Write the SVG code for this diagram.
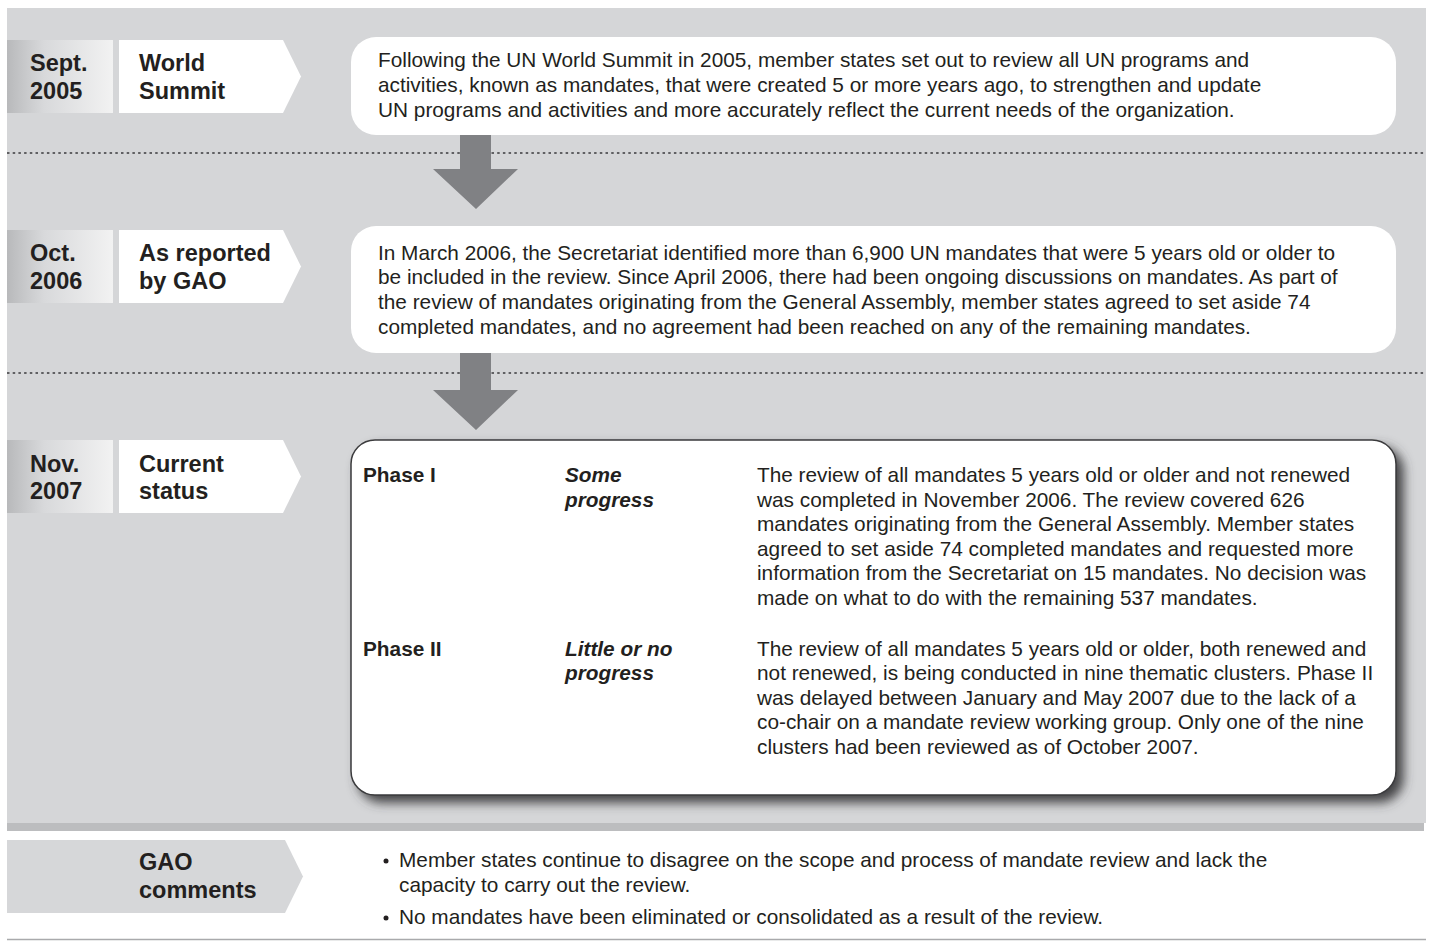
<svg xmlns="http://www.w3.org/2000/svg" width="1433" height="941" viewBox="0 0 1433 941">
<style>
.t{font-family:"Liberation Sans",Arial,sans-serif;font-size:20.8px;fill:#231f20}
.lb{font-family:"Liberation Sans",Arial,sans-serif;font-size:23.5px;font-weight:bold;fill:#231f20}
.b{font-family:"Liberation Sans",Arial,sans-serif;font-size:20.8px;font-weight:bold;fill:#231f20}
.bi{font-family:"Liberation Sans",Arial,sans-serif;font-size:20.8px;font-weight:bold;font-style:italic;fill:#231f20}
.dot{stroke:#3a3a3c;stroke-width:1.5;stroke-dasharray:2.5 3.2;fill:none}
.arrow{fill:#808184}
.box{fill:#ffffff}
.date{fill:url(#dg)}
.tag{fill:#ffffff}
</style>
<defs>
<linearGradient id="dg" x1="0" y1="0" x2="1" y2="0">
<stop offset="0" stop-color="#b8b9bb"/>
<stop offset="0.35" stop-color="#d8d9db"/>
<stop offset="1" stop-color="#f2f2f2"/>
</linearGradient>
<filter id="sh" x="-5%" y="-5%" width="115%" height="120%">
<feGaussianBlur in="SourceAlpha" stdDeviation="5.5"/>
<feOffset dx="7" dy="7" result="o"/>
<feFlood flood-color="#3c3c3e" flood-opacity="0.95"/>
<feComposite in2="o" operator="in"/>
<feMerge><feMergeNode/><feMergeNode in="SourceGraphic"/></feMerge>
</filter>
</defs>
<rect x="0" y="0" width="1433" height="941" fill="#ffffff"/>
<rect x="7" y="8" width="1419" height="815" fill="#d5d6d8"/>
<rect x="7" y="823" width="1417" height="8" fill="#bcbdbf"/>
<line x1="7" y1="939.5" x2="1426" y2="939.5" stroke="#a9aaac" stroke-width="1.5"/>

<g id="connectors">
<line class="dot" x1="7" y1="153" x2="1426" y2="153"/>
<line class="dot" x1="7" y1="373" x2="1426" y2="373"/>
<polygon class="arrow" points="460,135 491,135 491,169 518,169 476,209 433,169 460,169"/>
<polygon class="arrow" points="460,353 491,353 491,390 518,390 476,430 433,390 460,390"/>
</g>

<g id="row1-date"><rect class="date" x="7" y="40" width="106" height="73"/><text class="lb" x="30" y="71">Sept.</text><text class="lb" x="30" y="99">2005</text></g>
<g id="row1-tag"><polygon class="tag" points="119,40 283,40 301,76.5 283,113 119,113"/><text class="lb" x="139" y="71">World</text><text class="lb" x="139" y="99">Summit</text></g>
<g id="row1-box"><rect class="box" x="351" y="37" width="1045" height="98" rx="25"/>
<text class="t" x="378" y="67">Following the UN World Summit in 2005, member states set out to review all UN programs and</text>
<text class="t" x="378" y="92">activities, known as mandates, that were created 5 or more years ago, to strengthen and update</text>
<text class="t" x="378" y="117">UN programs and activities and more accurately reflect the current needs of the organization.</text></g>

<g id="row2-date"><rect class="date" x="7" y="230" width="106" height="73"/><text class="lb" x="30" y="261">Oct.</text><text class="lb" x="30" y="289">2006</text></g>
<g id="row2-tag"><polygon class="tag" points="119,230 283,230 301,266.5 283,303 119,303"/><text class="lb" x="139" y="261">As reported</text><text class="lb" x="139" y="289">by GAO</text></g>
<g id="row2-box"><rect class="box" x="351" y="226" width="1045" height="127" rx="25"/>
<text class="t" x="378" y="260">In March 2006, the Secretariat identified more than 6,900 UN mandates that were 5 years old or older to</text>
<text class="t" x="378" y="284">be included in the review. Since April 2006, there had been ongoing discussions on mandates. As part of</text>
<text class="t" x="378" y="309">the review of mandates originating from the General Assembly, member states agreed to set aside 74</text>
<text class="t" x="378" y="334">completed mandates, and no agreement had been reached on any of the remaining mandates.</text></g>

<g id="row3-date"><rect class="date" x="7" y="440" width="106" height="73"/><text class="lb" x="30" y="472">Nov.</text><text class="lb" x="30" y="499">2007</text></g>
<g id="row3-tag"><polygon class="tag" points="119,440 283,440 301,476.5 283,513 119,513"/><text class="lb" x="139" y="472">Current</text><text class="lb" x="139" y="499">status</text></g>
<g id="row3-box"><rect x="351" y="440" width="1045" height="355" rx="24" fill="#ffffff" stroke="#3a3a3c" stroke-width="1.5" filter="url(#sh)"/>
<text class="b" x="363" y="482">Phase I</text>
<text class="bi" x="565" y="482">Some</text>
<text class="bi" x="565" y="507">progress</text>
<text class="t" x="757" y="482">The review of all mandates 5 years old or older and not renewed</text>
<text class="t" x="757" y="507">was completed in November 2006. The review covered 626</text>
<text class="t" x="757" y="531">mandates originating from the General Assembly. Member states</text>
<text class="t" x="757" y="556">agreed to set aside 74 completed mandates and requested more</text>
<text class="t" x="757" y="580">information from the Secretariat on 15 mandates. No decision was</text>
<text class="t" x="757" y="605">made on what to do with the remaining 537 mandates.</text>
<text class="b" x="363" y="656">Phase II</text>
<text class="bi" x="565" y="656">Little or no</text>
<text class="bi" x="565" y="680">progress</text>
<text class="t" x="757" y="656">The review of all mandates 5 years old or older, both renewed and</text>
<text class="t" x="757" y="680">not renewed, is being conducted in nine thematic clusters. Phase II</text>
<text class="t" x="757" y="705">was delayed between January and May 2007 due to the lack of a</text>
<text class="t" x="757" y="729">co-chair on a mandate review working group. Only one of the nine</text>
<text class="t" x="757" y="754">clusters had been reviewed as of October 2007.</text></g>

<g id="gao-tag"><polygon fill="#d6d7d9" points="7,840 285,840 303,876.5 285,913 7,913"/><text class="lb" x="139" y="870">GAO</text><text class="lb" x="139" y="898">comments</text></g>
<g id="gao-comments">
<circle cx="386" cy="861" r="2.5" fill="#231f20"/>
<text class="t" x="399" y="867">Member states continue to disagree on the scope and process of mandate review and lack the</text>
<text class="t" x="399" y="892">capacity to carry out the review.</text>
<circle cx="386" cy="918" r="2.5" fill="#231f20"/>
<text class="t" x="399" y="924">No mandates have been eliminated or consolidated as a result of the review.</text>
</g>
</svg>
